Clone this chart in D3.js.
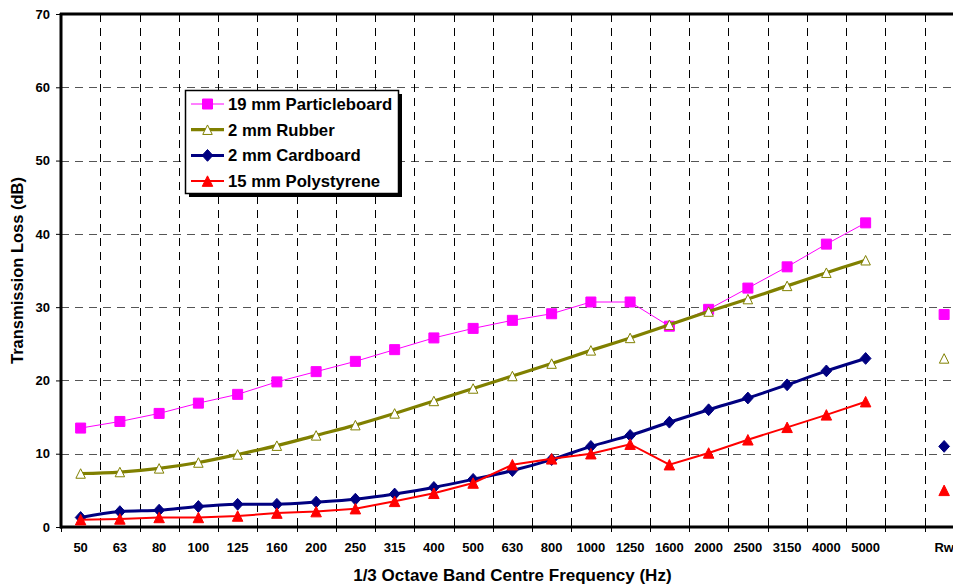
<!DOCTYPE html>
<html>
<head>
<meta charset="utf-8">
<script src="https://cdn.jsdelivr.net/npm/d3@7"></script>
<style>
  body { margin: 0; background: #fff; }
  svg text { font-family: "Liberation Sans", Arial, sans-serif; font-weight: bold; }
</style>
</head>
<body>
<svg id="chart" width="953" height="586"></svg>
<script>
// 1/3 octave band centres, then an empty slot and the Rw column
const bands = ["50", "63", "80", "100", "125", "160", "200", "250", "315", "400", "500",
  "630", "800", "1000", "1250", "1600", "2000", "2500", "3150", "4000", "5000"];
const categories = [...bands, "gap", "Rw"];
const yTicks = [0, 10, 20, 30, 40, 50, 60, 70];

const particleboard = [13.5, 14.4, 15.5, 16.9, 18.1, 19.8, 21.2, 22.6, 24.2, 25.8, 27.1,
  28.2, 29.1, 30.7, 30.7, 27.4, 29.7, 32.6, 35.5, 38.6, 41.5];
const rubber = [7.3, 7.5, 8.0, 8.8, 9.9, 11.1, 12.5, 13.9, 15.5, 17.2, 18.9,
  20.6, 22.3, 24.1, 25.8, 27.6, 29.4, 31.1, 32.9, 34.7, 36.4];
const cardboard = [1.3, 2.1, 2.3, 2.8, 3.1, 3.1, 3.4, 3.8, 4.5, 5.4, 6.5,
  7.7, 9.2, 11.0, 12.5, 14.3, 16.0, 17.6, 19.4, 21.3, 23.0];
const polystyrene = [1.0, 1.1, 1.3, 1.3, 1.5, 1.9, 2.1, 2.5, 3.5, 4.6, 6.0,
  8.5, 9.3, 10.0, 11.3, 8.5, 10.1, 11.9, 13.6, 15.3, 17.1];
const rwValues = [29, 23, 11, 5];

const seriesNames = ["19 mm Particleboard", "2 mm Rubber", "2 mm Cardboard", "15 mm Polystyrene"];

// Excel-like markers, centred on their bounding box
const square = { draw(ctx, size) { const r = Math.sqrt(size) / 2;
  ctx.moveTo(-r, -r); ctx.lineTo(r, -r); ctx.lineTo(r, r); ctx.lineTo(-r, r); ctx.closePath(); } };
const diamond = { draw(ctx, size) { const r = Math.sqrt(size) / 2;
  ctx.moveTo(0, -r * 1.1); ctx.lineTo(r, 0); ctx.lineTo(0, r * 1.1); ctx.lineTo(-r, 0); ctx.closePath(); } };
const triangle = { draw(ctx, size) { const r = Math.sqrt(size) / 2;
  ctx.moveTo(0, -r); ctx.lineTo(r, r); ctx.lineTo(-r, r); ctx.closePath(); } };

const series = [
  { name: seriesNames[0], values: particleboard, rw: rwValues[0], color: "#ff00ff", width: 1,
    symbol: square, size: 100, fill: "#ff00ff", curve: d3.curveLinear },
  { name: seriesNames[1], values: rubber, rw: rwValues[1], color: "#808000", width: 3.2,
    symbol: triangle, size: 90, fill: "#fff", curve: d3.curveCatmullRom },
  { name: seriesNames[2], values: cardboard, rw: rwValues[2], color: "#000080", width: 3,
    symbol: diamond, size: 115, fill: "#000080", curve: d3.curveCatmullRom },
  { name: seriesNames[3], values: polystyrene, rw: rwValues[3], color: "#ff0000", width: 2,
    symbol: triangle, size: 110, fill: "#ff0000", curve: d3.curveLinear }
];

const svg = d3.select("#chart");
const plotLeft = 61, plotTop = 14, plotBottom = 527, bandW = 39.25;

const x = d3.scaleBand().domain(categories).range([plotLeft, plotLeft + categories.length * bandW]).padding(0);
const y = d3.scaleLinear().domain([0, 70]).range([plotBottom, plotTop]);
const cx = c => x(c) + x.bandwidth() / 2;

// horizontal grid (grey dashed)
svg.append("g").selectAll("line").data(yTicks.slice(1, -1)).join("line")
  .attr("x1", plotLeft).attr("x2", 953)
  .attr("y1", d => Math.round(y(d)) + 0.5).attr("y2", d => Math.round(y(d)) + 0.5)
  .attr("stroke", "#555").attr("stroke-width", 1).attr("stroke-dasharray", "8,6");

// vertical grid (black dashed) at band boundaries
svg.append("g").selectAll("line").data(categories.slice(1)).join("line")
  .attr("x1", d => Math.round(x(d)) + 0.5).attr("x2", d => Math.round(x(d)) + 0.5)
  .attr("y1", plotTop).attr("y2", plotBottom)
  .attr("stroke", "#000").attr("stroke-width", 1).attr("stroke-dasharray", "8,6");

// x ticks below axis
svg.append("g").selectAll("line").data(categories).join("line")
  .attr("x1", d => Math.round(x(d)) + 0.5).attr("x2", d => Math.round(x(d)) + 0.5)
  .attr("y1", plotBottom).attr("y2", plotBottom + 5)
  .attr("stroke", "#000").attr("stroke-width", 1);

// y axis
const yAxis = svg.append("g").attr("transform", `translate(${plotLeft},0)`)
  .call(d3.axisLeft(y).tickValues(yTicks).tickSize(5).tickPadding(6));
yAxis.select(".domain").remove();
yAxis.selectAll("line").attr("stroke", "#000");
yAxis.selectAll("text").style("font-size", "13px").attr("fill", "#000");

// frame lines
svg.append("line").attr("x1", plotLeft).attr("x2", plotLeft).attr("y1", plotTop - 1).attr("y2", plotBottom + 1.5)
  .attr("stroke", "#000").attr("stroke-width", 3);
svg.append("line").attr("x1", plotLeft - 1).attr("x2", 953).attr("y1", plotTop).attr("y2", plotTop)
  .attr("stroke", "#000").attr("stroke-width", 3);
svg.append("line").attr("x1", plotLeft - 1).attr("x2", 953).attr("y1", plotBottom).attr("y2", plotBottom)
  .attr("stroke", "#000").attr("stroke-width", 3);

// x labels
svg.append("g").selectAll("text").data(categories).join("text")
  .attr("x", d => cx(d)).attr("y", 552)
  .attr("text-anchor", "middle").style("font-size", "13px")
  .text(d => d === "gap" ? "" : d);

// axis titles
svg.append("text").attr("x", cx(categories[11])).attr("y", 581)
  .attr("text-anchor", "middle").style("font-size", "17px")
  .text("1/3 Octave Band Centre Frequency (Hz)");
svg.append("text").attr("transform", `translate(23,${(plotTop + plotBottom) / 2}) rotate(-90)`)
  .attr("text-anchor", "middle").style("font-size", "16.5px")
  .text("Transmission Loss (dB)");

// series lines and markers
series.forEach(s => {
  const pts = s.values.map((v, i) => [cx(bands[i]), y(v)]);
  svg.append("path").attr("d", d3.line().curve(s.curve)(pts))
    .attr("fill", "none").attr("stroke", s.color).attr("stroke-width", s.width);
  const sym = d3.symbol().type(s.symbol).size(s.size);
  const all = [...pts, [cx("Rw"), y(s.rw)]];
  svg.append("g").selectAll("path").data(all).join("path")
    .attr("transform", d => `translate(${d[0]},${d[1]})`)
    .attr("d", sym)
    .attr("fill", s.fill).attr("stroke", s.color).attr("stroke-width", 1);
});

// legend
const lg = svg.append("g").attr("transform", "translate(185,90)");
lg.append("rect").attr("x", 4).attr("y", 4).attr("width", 213).attr("height", 103).attr("fill", "#000");
lg.append("rect").attr("x", 0.5).attr("y", 0.5).attr("width", 213).attr("height", 103)
  .attr("fill", "#fff").attr("stroke", "#000").attr("stroke-width", 1.5);
series.forEach((s, i) => {
  const ry = 14 + i * 25.7;
  lg.append("line").attr("x1", 6).attr("x2", 39).attr("y1", ry).attr("y2", ry)
    .attr("stroke", s.color).attr("stroke-width", s.width);
  lg.append("path").attr("transform", `translate(22.5,${ry})`)
    .attr("d", d3.symbol().type(s.symbol).size(s.size)())
    .attr("fill", s.fill).attr("stroke", s.color).attr("stroke-width", 1);
  lg.append("text").attr("x", 43).attr("y", ry + 6).style("font-size", "16.7px").text(s.name);
});
</script>
</body>
</html>
